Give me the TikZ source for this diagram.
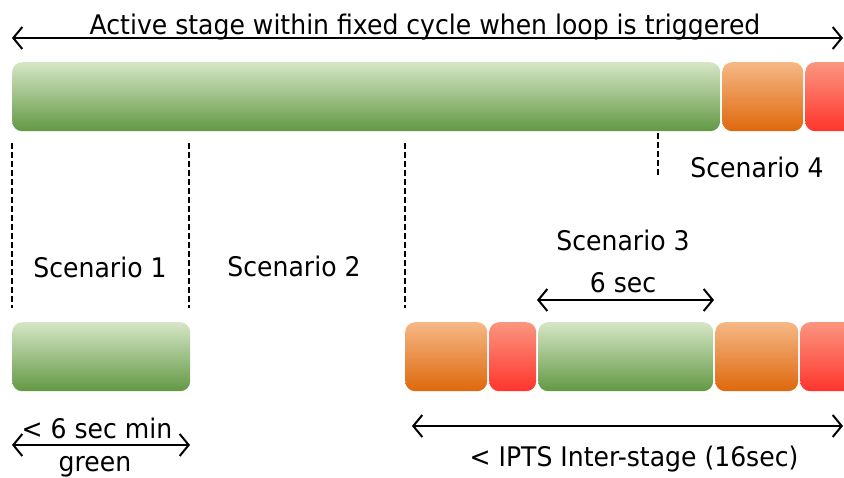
\documentclass[tikz,border=0pt]{standalone}
\usepackage{fontspec}
\setmainfont[FakeStretch=0.93]{DejaVu Sans}
\usetikzlibrary{arrows.meta}
\definecolor{greentop}{RGB}{214, 230, 198}
\definecolor{greenmid}{RGB}{150, 186, 110}
\definecolor{greenbot}{RGB}{98, 152, 68}
\definecolor{orangetop}{RGB}{246, 184, 134}
\definecolor{orangemid}{RGB}{234, 140, 60}
\definecolor{orangebot}{RGB}{222, 104, 12}
\definecolor{redtop}{RGB}{250, 150, 128}
\definecolor{redmid}{RGB}{253, 90, 70}
\definecolor{redbot}{RGB}{255, 52, 44}

\tikzset{
  phase/.style={rectangle, rounded corners=10pt, inner sep=0pt,
    minimum height=69pt, anchor=north west},
  greenphase/.style={phase, top color=greentop, middle color=greenmid, bottom color=greenbot},
  amberphase/.style={phase, top color=orangetop, middle color=orangemid, bottom color=orangebot},
  redphase/.style={phase, top color=redtop, middle color=redmid, bottom color=redbot},
  span/.style={line width=2pt, {Straight Barb[length=9pt,width=22pt]}-{Straight Barb[length=9pt,width=22pt]}},
  cut/.style={line width=1.8pt, dash pattern=on 6pt off 3pt},
  lbl/.style={anchor=base, inner sep=0pt, font=\fontsize{27}{32}\selectfont}
}

\begin{document}
\begin{tikzpicture}[x=1pt, y=-1pt]

\clip (0,0) rectangle (844,477);

% ============================================================
%  TOP  --  full stage within the fixed cycle
% ============================================================
\coordinate (cycleL) at (12, 38);
\coordinate (cycleR) at (843, 38);
\draw[span] (cycleL) -- (cycleR);
\node[lbl] (cycletxt) at (425, 34) {Active stage within fixed cycle when loop is triggered};

\node[greenphase, minimum width=708pt] (g0) at (12, 62) {};
\node[amberphase, minimum width=81pt] (a0) at (722, 62) {};
\node[redphase, minimum width=60pt] (r0) at (805, 62) {};

% ---- scenario borders ----
\draw[cut] (12, 143) -- (12, 308);
\draw[cut] (189, 143) -- (189, 308);
\draw[cut] (405, 143) -- (405, 308);
\draw[cut] (658, 133) -- (658, 177);

\node[lbl] (sc1) at (100, 277) {Scenario 1};
\node[lbl] (sc2) at (294, 276) {Scenario 2};
\node[lbl] (sc3) at (623, 250) {Scenario 3};
\node[lbl] (sc4) at (757, 177) {Scenario 4};

% ============================================================
%  BOTTOM  --  short green / inter-stage sequence
% ============================================================
\node[greenphase, minimum width=178pt] (g1) at (12, 322) {};

\node[amberphase, minimum width=82pt] (a1) at (405, 322) {};
\node[redphase, minimum width=47pt] (r1) at (489, 322) {};
\node[greenphase, minimum width=175pt] (g2) at (538, 322) {};
\node[amberphase, minimum width=83pt] (a2) at (715, 322) {};
\node[redphase, minimum width=60pt] (r2) at (800, 322) {};

% 6 sec arrow over the middle green
\coordinate (sixL) at (537, 300);
\coordinate (sixR) at (714, 300);
\draw[span] (sixL) -- (sixR);
\node[lbl] (sixtxt) at (623, 292) {6 sec};

% min green arrow
\coordinate (minL) at (12, 445);
\coordinate (minR) at (190, 445);
\draw[span] (minL) -- (minR);
\node[lbl] (mintxt) at (97, 438) {< 6 sec min};
\node[lbl] (greentxt) at (95, 471) {green};

% inter-stage arrow
\coordinate (ipL) at (412, 426);
\coordinate (ipR) at (843, 426);
\draw[span] (ipL) -- (ipR);
\node[lbl] (iptxt) at (634, 466) {< IPTS Inter-stage (16sec)};

\end{tikzpicture}
\end{document}
